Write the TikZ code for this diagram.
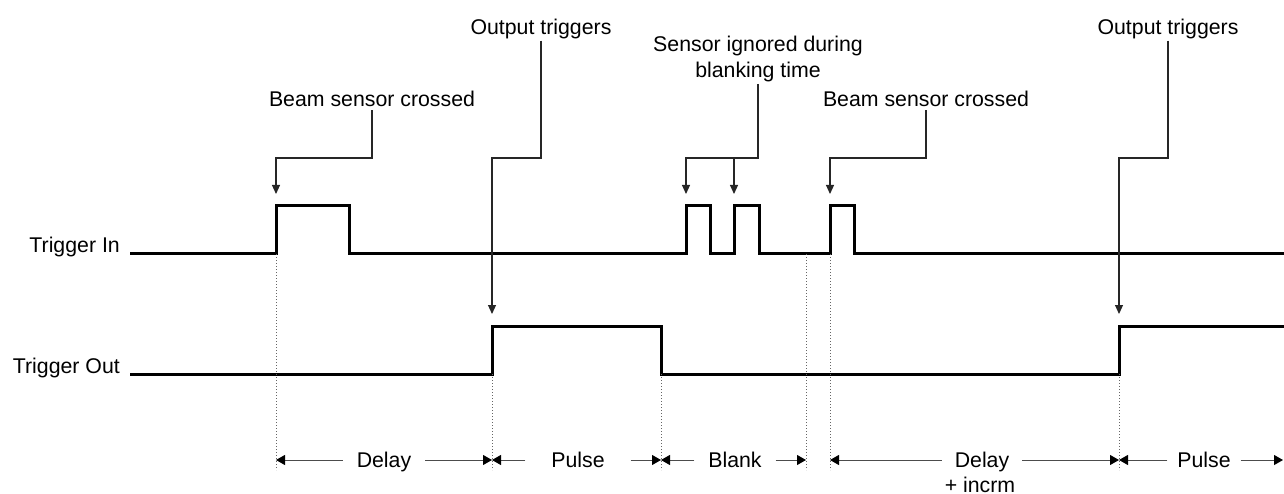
\documentclass[tikz,border=0pt]{standalone}
\usepackage{fontspec}
\setmainfont{Liberation Sans}
\usetikzlibrary{arrows.meta}
\begin{document}
\begin{tikzpicture}[x=1pt,y=-1pt,
  sig/.style={line width=3pt, line join=miter, line cap=rect},
  lbl/.style={font=\fontsize{21.3}{25.5}\selectfont, inner sep=0pt},
  conn/.style={line width=1.1pt, black!85, -{Triangle[length=9pt,width=8pt]}},
  lead/.style={line width=1.1pt, black!85},
  guide/.style={black!60, line width=0.8pt, dash pattern=on 1pt off 2pt},
  dimarrow/.style={line width=1pt, black!70, -{Triangle[length=9pt,width=10pt,black]}},
  dimlbl/.style={lbl, text height=16pt, text depth=2pt, align=center}]
\useasboundingbox (0,0) rectangle (1284,494);

% signals
\draw[sig] (131,254) -- (276,254) -- (276,206) -- (349,206) -- (349,254)
  -- (686,254) -- (686,206) -- (710,206) -- (710,254)
  -- (734,254) -- (734,206) -- (759,206) -- (759,254)
  -- (830,254) -- (830,206) -- (854,206) -- (854,254) -- (1284,254);
\draw[sig] (131,374) -- (492,374) -- (492,326) -- (661,326) -- (661,374)
  -- (1119,374) -- (1119,326) -- (1284,326);

\node[lbl, anchor=base east] (tin) at (120,253) {Trigger In};
\node[lbl, anchor=base east] (tout) at (120,373) {Trigger Out};

% guide coordinates
\coordinate (gAt) at (276,254);  \coordinate (gAb) at (276,470);
\coordinate (gBt) at (492,374);  \coordinate (gBb) at (492,470);
\coordinate (gCt) at (661,374);  \coordinate (gCb) at (661,470);
\coordinate (gDt) at (806,254);  \coordinate (gDb) at (806,470);
\coordinate (gEt) at (830,254);  \coordinate (gEb) at (830,470);
\coordinate (gFt) at (1119,374); \coordinate (gFb) at (1119,470);
\foreach \g in {A,B,C,D,E,F} \draw[guide] (g\g t) -- (g\g b);

% annotations
\node[lbl, anchor=base] (beam1) at (372,107) {Beam sensor crossed};
\node[lbl, anchor=base] (out1) at (541,35) {Output triggers};
\node[lbl, align=center, anchor=center] (sens) at (758,59) {Sensor ignored during\\blanking time};
\node[lbl, anchor=base] (beam2) at (926,107) {Beam sensor crossed};
\node[lbl, anchor=base] (out2) at (1168,35) {Output triggers};

\coordinate (a1) at (276,194);
\coordinate (a2) at (492,314);
\coordinate (a3) at (686,194);
\coordinate (a4) at (734,194);
\coordinate (a5) at (830,194);
\coordinate (a6) at (1119,314);
\coordinate (br) at (734,158);

\draw[conn] ([yshift=-3pt]beam1.south) |- (276,158) -- (a1);
\draw[conn] ([yshift=-1pt]out1.south) |- (492,158) -- (a2);
\draw[conn] ([yshift=-2pt]sens.south) |- (686,158) -- (a3);
\draw[conn] (br) -- (a4);
\draw[conn] ([yshift=-3pt]beam2.south) |- (830,158) -- (a5);
\draw[conn] ([yshift=-1pt]out2.south) |- (1119,158) -- (a6);

% dimension lines
\coordinate (dA) at (276,460);
\coordinate (dB) at (492,460);
\coordinate (dC) at (661,460);
\coordinate (dD) at (806,460);
\coordinate (dE) at (830,460);
\coordinate (dF) at (1119,460);
\coordinate (dG) at (1283,460);

\node[dimlbl, minimum width=82pt] (delay1) at (384,460) {Delay};
\node[dimlbl, minimum width=105pt] (pulse1) at (578,460) {Pulse};
\node[dimlbl, minimum width=81pt] (blank) at (735,460) {Blank};
\node[dimlbl, minimum width=80pt] (delay2) at (982,460) {Delay};
\node[lbl, anchor=base] (incrm) at (980,492) {+ incrm};
\node[dimlbl, minimum width=73pt] (pulse2) at (1204,460) {Pulse};

\draw[dimarrow] (delay1.west) -- (dA);
\draw[dimarrow] (delay1.east) -- (dB);
\draw[dimarrow] (pulse1.west) -- (dB);
\draw[dimarrow] (pulse1.east) -- (dC);
\draw[dimarrow] (blank.west) -- (dC);
\draw[dimarrow] (blank.east) -- (dD);
\draw[dimarrow] (delay2.west) -- (dE);
\draw[dimarrow] (delay2.east) -- (dF);
\draw[dimarrow] (pulse2.west) -- (dF);
\draw[dimarrow] (pulse2.east) -- (dG);
\end{tikzpicture}
\end{document}
